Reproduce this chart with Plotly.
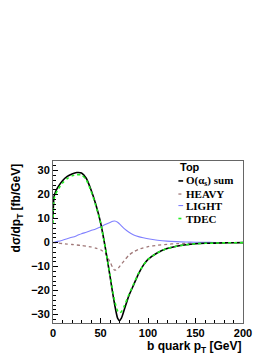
import plotly.graph_objects as go

pt = [0, 1, 2.5, 5, 10, 15, 20, 25, 30, 35, 40, 45, 50, 55, 60, 63, 65, 68, 70, 72,
      75, 80, 85, 90, 95, 100, 110, 120, 130, 140, 150, 160, 170, 180, 190, 200]

total = [10, 19, 21, 23, 25.8, 27.6, 28.6, 29.2, 29.0, 26.8, 22, 16, 8.5, -2, -14, -21.5,
         -26, -31.5, -32.5, -31.5, -28, -22, -17.5, -13, -9.5, -7, -4.2, -2.5, -1.5, -0.9,
         -0.5, -0.3, -0.2, -0.1, -0.06, -0.03]

tdec = [8, 18, 20, 22, 24.8, 26.7, 27.8, 28.3, 28.2, 26.2, 21.5, 15.5, 8.3, -2, -13.5,
        -20.5, -24.5, -28.5, -29.3, -28.8, -26.5, -21.5, -17.2, -12.8, -9.4, -7, -4.2,
        -2.5, -1.5, -0.9, -0.5, -0.3, -0.2, -0.1, -0.06, -0.03]

light = [0, 0.1, 0.3, 0.5, 1, 1.6, 2.2, 2.9, 3.7, 4.3, 5, 5.7, 6.5, 7.5, 8.4, 8.9, 9.0,
         8.5, 7.8, 7.0, 5.8, 4.3, 3.2, 2.5, 2.0, 1.6, 1.0, 0.6, 0.4, 0.25, 0.15, 0.1,
         0.07, 0.05, 0.03, 0.02]

heavy = [0, 0, -0.1, -0.2, -0.4, -0.6, -0.8, -1.0, -1.2, -1.5, -1.8, -2.3, -3, -4.5, -8,
         -10.5, -11.5, -11, -10, -9, -7.5, -5.2, -3.8, -2.8, -2.2, -1.7, -1.1, -0.7,
         -0.45, -0.3, -0.2, -0.12, -0.08, -0.05, -0.03, -0.02]

legend_title = "Top"
names = ["O(α<sub>s</sub>) sum", "HEAVY", "LIGHT", "TDEC"]
colors = ["#000000", "#a07878", "#8080ff", "#22ee22"]
dashes = ["solid", "dot", "solid", "dot"]
widths = [1.6, 1.3, 1.1, 1.6]
series = [total, heavy, light, tdec]

fig = go.Figure()
order = [1, 2, 0, 3]
for i in order:
    fig.add_trace(go.Scatter(x=pt, y=series[i], mode="lines", name=names[i],
                             line=dict(color=colors[i], dash=dashes[i], width=widths[i],
                                       shape="spline", smoothing=0.6),
                             showlegend=False))

sans = "Liberation Sans, Arial, sans-serif"
serif = "Liberation Serif, Times New Roman, serif"

# manual legend (ROOT style)
ann = [dict(text="<b>" + legend_title + "</b>", x=0.658, y=0.960, xref="paper", yref="paper",
            xanchor="left", yanchor="middle", showarrow=False,
            font=dict(family=sans, size=11, color="black"))]
leg_y = [0.877, 0.796, 0.725, 0.645]
for k in range(4):
    ann.append(dict(text="<b>" + names[k] + "</b>", x=0.69, y=leg_y[k], xref="paper",
                    yref="paper", xanchor="left", yanchor="middle", showarrow=False,
                    font=dict(family=serif, size=11, color="black")))
shapes = []
for k in range(4):
    shapes.append(dict(type="line", xref="paper", yref="paper", x0=0.66, x1=0.685,
                       y0=leg_y[k], y1=leg_y[k],
                       line=dict(color=colors[k], dash=dashes[k], width=widths[k])))

ann.append(dict(text="<b>dσ/dp<sub>T</sub> [fb/GeV]</b>", x=-0.19, y=1.0, xref="paper",
                yref="paper", xanchor="center", yanchor="top", textangle=-90,
                showarrow=False, font=dict(family=sans, size=12, color="black")))
ann.append(dict(text="<b>b quark p<sub>T</sub> [GeV]</b>", x=1.0, y=-0.085, xref="paper",
                yref="paper", xanchor="right", yanchor="top", showarrow=False,
                font=dict(family=sans, size=12, color="black")))

fig.update_layout(
    width=274, height=355,
    margin=dict(l=53, r=31, t=161, b=32),
    paper_bgcolor="white", plot_bgcolor="white",
    showlegend=False,
    annotations=ann, shapes=shapes,
    xaxis=dict(range=[0, 200], dtick=50, tick0=0, ticks="inside", ticklen=5,
               tickcolor="black", showgrid=False, zeroline=False,
               showline=True, mirror=True, linecolor="#666666", linewidth=1,
               tickfont=dict(family=sans, size=11, color="black", weight="bold"),
               minor=dict(ticks="inside", dtick=10, ticklen=3, tickcolor="black")),
    yaxis=dict(range=[-33.5, 34], dtick=10, tick0=0, ticks="inside", ticklen=5,
               tickcolor="black", showgrid=False, zeroline=False,
               showline=True, mirror=True, linecolor="#666666", linewidth=1,
               tickfont=dict(family=sans, size=11, color="black", weight="bold"),
               minor=dict(ticks="inside", dtick=2, ticklen=3, tickcolor="black")),
)

fig.write_html("out.html", config={"displayModeBar": False},
               post_script="document.body.style.margin='0';document.body.style.padding='0';")
